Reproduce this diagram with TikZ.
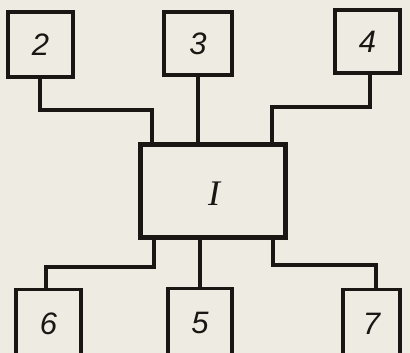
\documentclass[tikz,border=0pt]{standalone}
\usepackage{fontspec}
\setmainfont{Liberation Serif}
\newfontfamily\digfont{Liberation Sans}
\usepackage{xcolor}
\definecolor{paper}{RGB}{238,235,226}
\definecolor{ink}{RGB}{25,22,20}
\begin{document}
\begin{tikzpicture}[x=1pt,y=-1pt,
  blk/.style={draw=ink,line width=3.2pt,rectangle,inner sep=0pt},
  mainblk/.style={draw=ink,line width=4.8pt,rectangle,inner sep=0pt},
  lab/.style={font=\fontsize{31}{31}\selectfont\digfont\itshape,text=ink},
  wire/.style={draw=ink,line width=3.2pt,line cap=rect}]
\fill[paper] (0,0) rectangle (410,353);
\useasboundingbox (0,0) rectangle (410,353);
% upper blocks
\node[blk,lab,minimum width=65pt,minimum height=65pt] (b2) at (40.5,44.5) {2};
\node[blk,lab,minimum width=68pt,minimum height=63pt] (b3) at (198,43.5) {3};
\node[blk,lab,minimum width=65pt,minimum height=63pt] (b4) at (367.5,41.5) {4};
% main block
\node[mainblk,minimum width=145pt,minimum height=92.5pt] (bI) at (213,191) {};
\node[font=\fontsize{36}{36}\selectfont\itshape,text=ink] (lI) at (214,194) {I};
% lower blocks (cut by the page edge)
\node[blk,minimum width=65pt,minimum height=74pt,anchor=north] (b6) at (48.5,288) {};
\node[lab] (l6) at (48.5,324) {6};
\node[blk,minimum width=64pt,minimum height=74pt,anchor=north] (b5) at (200,287) {};
\node[lab] (l5) at (200,323) {5};
\node[blk,minimum width=57pt,minimum height=74pt,anchor=north] (b7) at (371.5,288) {};
\node[lab] (l7) at (371.5,324) {7};
% bend points
\coordinate (k2a) at (40,110);
\coordinate (k2b) at (152,110);
\coordinate (k4a) at (370,107);
\coordinate (k4b) at (272,107);
\coordinate (k6a) at (154,267);
\coordinate (k6b) at (46,267);
\coordinate (k7a) at (273,265);
\coordinate (k7b) at (376,265);
% connectors
\draw[wire] (k2a |- b2.south) -- (k2a) -- (k2b) -- (k2b |- bI.north);
\draw[wire] (b3.south) -- (b3.south |- bI.north);
\draw[wire] (k4a |- b4.south) -- (k4a) -- (k4b) -- (k4b |- bI.north);
\draw[wire] (k6a |- bI.south) -- (k6a) -- (k6b) -- (k6b |- b6.north);
\draw[wire] (b5.north |- bI.south) -- (b5.north);
\draw[wire] (k7a |- bI.south) -- (k7a) -- (k7b) -- (k7b |- b7.north);
\end{tikzpicture}
\end{document}
